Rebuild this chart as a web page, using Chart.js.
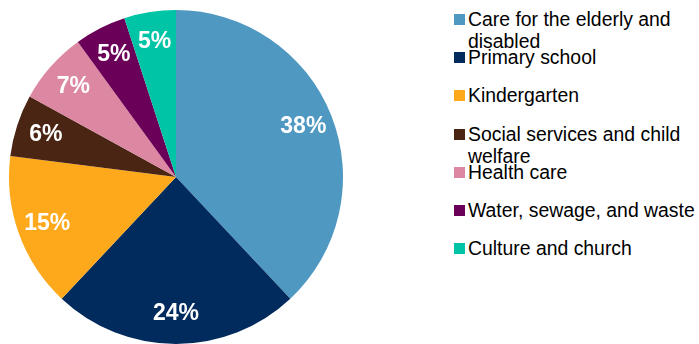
<!DOCTYPE html>
<html>
<head>
<meta charset="utf-8">
<script src="https://cdn.jsdelivr.net/npm/chart.js@4"></script>
<style>
  body { margin: 0; background: #fff; width: 699px; height: 344px; overflow: hidden; position: relative; font-family: "Liberation Sans", Arial, sans-serif; }
  #pieBox { position: absolute; left: 0; top: 0; width: 352px; height: 344px; }
  #legend { position: absolute; left: 454px; top: 0; width: 245px; }
  .item { position: absolute; left: 0; width: 245px; }
  .swatch { position: absolute; left: 0; top: 14px; width: 11px; height: 11px; }
  .label { position: absolute; left: 14px; top: 8px; width: 231px; font-size: 19.4px; line-height: 22px; color: #000; }
</style>
</head>
<body>
<div id="pieBox"><canvas id="pieChart"></canvas></div>
<div id="legend"></div>
<script>
// chart data
const categories = ['Care for the elderly and disabled', 'Primary school', 'Kindergarten',
  'Social services and child welfare', 'Health care', 'Water, sewage, and waste', 'Culture and church'];
const shares = [38, 24, 15, 6, 7, 5, 5];
const colors = ['#4F98C2', '#002B5C', '#FDA91B', '#4A2513', '#DC88A2', '#6A0058', '#00C4A6'];

// draws the white % labels inside the slices
const sliceLabels = {
  id: 'sliceLabels',
  afterDatasetsDraw(chart) {
    const ctx = chart.ctx;
    const meta = chart.getDatasetMeta(0);
    ctx.save();
    ctx.font = 'bold 23px "Liberation Sans", Arial, sans-serif';
    ctx.fillStyle = '#fff';
    ctx.textAlign = 'center';
    ctx.textBaseline = 'middle';
    meta.data.forEach((arc, i) => {
      const p = arc.getProps(['x', 'y', 'startAngle', 'endAngle', 'outerRadius'], true);
      const mid = (p.startAngle + p.endAngle) / 2;
      const r = p.outerRadius * 0.82;
      ctx.fillText(shares[i] + '%', p.x + Math.cos(mid) * r, p.y + Math.sin(mid) * r);
    });
    ctx.restore();
  }
};

new Chart(document.getElementById('pieChart').getContext('2d'), {
  type: 'pie',
  data: {
    labels: categories,
    datasets: [{
      data: shares,
      backgroundColor: colors,
      borderWidth: 0
    }]
  },
  options: {
    responsive: true,
    maintainAspectRatio: false,
    animation: false,
    layout: { padding: { left: 9, right: 9, top: 10, bottom: 0 } },
    plugins: {
      legend: { display: false },
      tooltip: { enabled: false }
    }
  },
  plugins: [sliceLabels]
});

// legend on the right
const legend = document.getElementById('legend');
categories.forEach((name, i) => {
  const item = document.createElement('div');
  item.className = 'item';
  item.style.top = (i * 38.2) + 'px';
  item.innerHTML = '<div class="swatch" style="background:' + colors[i] + '"></div><div class="label">' + name + '</div>';
  legend.appendChild(item);
});
</script>
</body>
</html>
